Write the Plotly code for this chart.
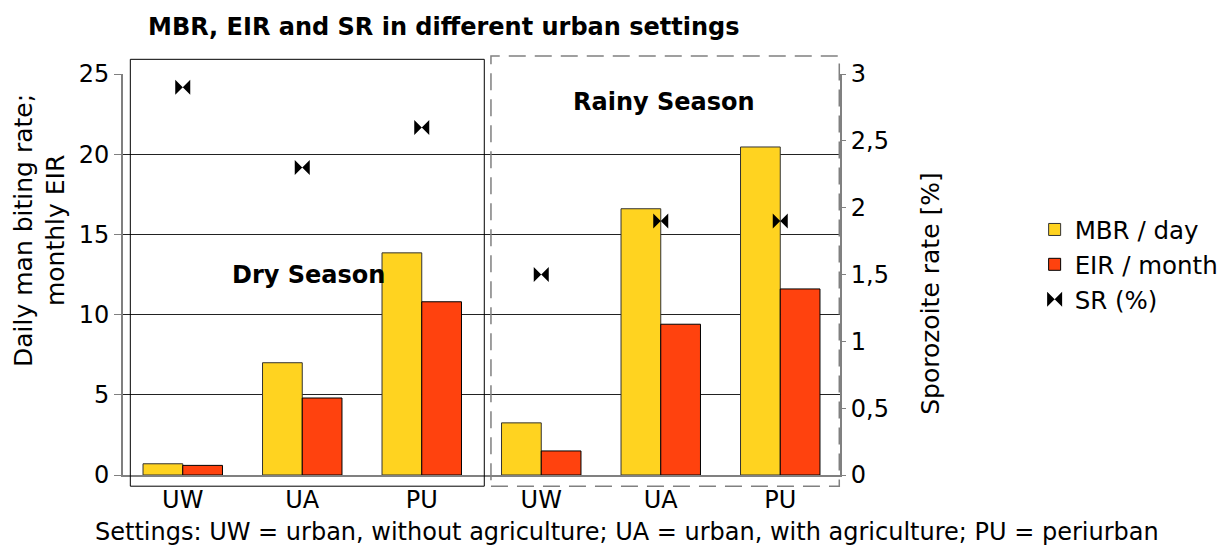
import plotly.graph_objects as go

# ---- data ----
positions = [0, 1, 2, 3, 4, 5]
settings = ["UW", "UA", "PU", "UW", "UA", "PU"]
mbr_day = [0.7, 7.0, 13.85, 3.25, 16.6, 20.45]
eir_month = [0.6, 4.8, 10.8, 1.5, 9.4, 11.6]
sr_pct = [2.9, 2.3, 2.6, 1.5, 1.9, 1.9]
left_ticks = [0, 5, 10, 15, 20, 25]
right_ticks = [0, 0.5, 1, 1.5, 2, 2.5, 3]
boundaries = [0.5, 1.5, 2.5, 3.5, 4.5]

FONT = "DejaVu Sans"
YELLOW = "#ffd320"
RED = "#ff420e"
GRAY = "#808080"

fig = go.Figure()
fig.add_trace(go.Bar(x=positions, y=mbr_day, name="MBR / day",
                     marker=dict(color=YELLOW, line=dict(color="#333333", width=1))))
fig.add_trace(go.Bar(x=positions, y=eir_month, name="EIR / month",
                     marker=dict(color=RED, line=dict(color="#000000", width=1))))
fig.add_trace(go.Scatter(x=positions, y=sr_pct, name="SR (%)", mode="markers", yaxis="y2",
                         marker=dict(symbol="bowtie", size=15, color="black",
                                     line=dict(width=0))))

fig.update_layout(
    width=1227, height=547,
    margin=dict(l=115, r=395, t=66, b=79.5),
    paper_bgcolor="white", plot_bgcolor="white",
    font=dict(family=FONT, size=24, color="black"),
    separators=",.",
    barmode="group", bargap=0.335, bargroupgap=0,
    showlegend=True,
    legend=dict(x=0.8367, y=0.531, xref="container", yref="container",
                xanchor="left", yanchor="middle",
                font=dict(size=24.5), tracegroupgap=0, itemwidth=30,
                bgcolor="rgba(0,0,0,0)"),
    title=dict(text="<b>MBR, EIR and SR in different urban settings</b>",
               x=140 / 1227, xanchor="left", xref="container",
               y=1 - 19 / 547, yanchor="middle", yref="container",
               font=dict(size=24, family=FONT)),
    xaxis=dict(range=[-0.5, 5.5], tickmode="array", tickvals=positions, ticktext=settings,
               ticks="", showline=True, linecolor=GRAY, linewidth=2,
               showgrid=False, zeroline=False, ticklabelstandoff=2,
               tickfont=dict(size=24), automargin=False),
    xaxis2=dict(overlaying="x", matches="x", side="bottom", range=[-0.5, 5.5],
                tickmode="array", tickvals=boundaries, ticks="outside", ticklen=5,
                tickcolor="#333333", tickwidth=1, showticklabels=False,
                showgrid=False, zeroline=False, showline=False, automargin=False),
    yaxis=dict(range=[0, 25], tickmode="array", tickvals=left_ticks,
               ticks="outside", ticklen=7, tickcolor=GRAY, tickwidth=1,
               showline=True, linecolor=GRAY, linewidth=2,
               showgrid=True, gridcolor="#222222", gridwidth=1,
               zeroline=True, zerolinecolor="#222222", zerolinewidth=1,
               tickfont=dict(size=24), automargin=False),
    yaxis2=dict(range=[0, 3], overlaying="y", side="right", tickmode="array",
                tickvals=right_ticks, ticks="outside", ticklen=4, tickcolor=GRAY,
                showline=True, linecolor=GRAY, linewidth=2, showgrid=False,
                zeroline=False, tickfont=dict(size=24), automargin=False),
)

# season frames (paper coordinates, not clipped to the plot area)
fig.add_shape(type="rect", xref="paper", yref="paper", x0=0.0102, x1=0.5039,
              y0=-0.0279, y1=1.0366,
              line=dict(color="black", width=1), fillcolor="rgba(0,0,0,0)", layer="above")
fig.add_shape(type="rect", xref="paper", yref="paper", x0=0.5132, x1=0.999,
              y0=-0.0279, y1=1.0448,
              line=dict(color=GRAY, width=1.5, dash="17px,9px"),
              fillcolor="rgba(0,0,0,0)", layer="above")

fig.add_annotation(text="<b>Dry Season</b>", x=1.05, y=12.5, xref="x", yref="y",
                   showarrow=False, font=dict(size=24, family=FONT))
fig.add_annotation(text="<b>Rainy Season</b>", x=4.03, y=23.25, xref="x", yref="y",
                   showarrow=False, font=dict(size=24, family=FONT))
fig.add_annotation(text="Daily man biting rate;<br>monthly EIR", textangle=-90,
                   x=-0.1158, y=0.611, xref="paper", yref="paper",
                   xanchor="center", yanchor="middle", showarrow=False,
                   font=dict(size=25, family=FONT))
fig.add_annotation(text="Sporozoite rate [%]", textangle=-90,
                   x=1.127, y=0.452, xref="paper", yref="paper",
                   xanchor="center", yanchor="middle", showarrow=False,
                   font=dict(size=25, family=FONT))
fig.add_annotation(text="Settings: UW = urban, without agriculture; UA = urban, with agriculture; PU = periurban",
                   x=0.7036, y=-0.1432, xref="paper", yref="paper", xanchor="center",
                   yanchor="middle", showarrow=False, font=dict(size=24, family=FONT))

fig.write_html("out.html")
